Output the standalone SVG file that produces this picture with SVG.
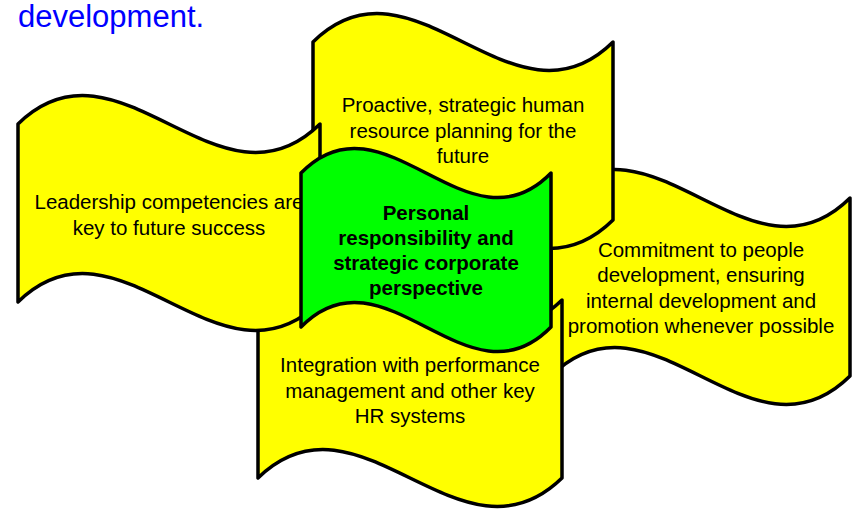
<svg xmlns="http://www.w3.org/2000/svg" width="852" height="511" viewBox="0 0 852 511">
<style>
.flag{stroke:#000;stroke-width:3.5;stroke-linejoin:round}
.y{fill:#FFFF00}
.g{fill:#00FF00}
.t{font-family:"Liberation Sans",Arial,sans-serif;font-size:20.5px;fill:#000;text-anchor:middle}
.b{font-weight:bold}
.title{font-family:"Liberation Sans",Arial,sans-serif;font-size:31px;fill:#0000FF}
</style>
<rect width="852" height="511" fill="#fff"/>
<text class="title" x="18" y="27">development.</text>
<g id="node-commitment">
<path class="flag y" d="M551,198 C650.7,99.3 750.3,296.7 850,198 L850,376 C750.3,474.7 650.7,277.3 551,376 Z"/>
<text class="t" x="701"><tspan x="701" y="257">Commitment to people</tspan><tspan x="701" y="282">development, ensuring</tspan><tspan x="701" y="307.5">internal development and</tspan><tspan x="701" y="333">promotion whenever possible</tspan></text>
</g>
<g id="node-proactive">
<path class="flag y" d="M313,42 C413,-56.7 513,140.7 613,42 L613,220 C513,318.7 413,121.3 313,220 Z"/>
<text class="t" x="463"><tspan x="463" y="112">Proactive, strategic human</tspan><tspan x="463" y="137.5">resource planning for the</tspan><tspan x="463" y="163">future</tspan></text>
</g>
<g id="node-integration">
<path class="flag y" d="M258,300 C359.3,201.3 460.7,398.7 562,300 L562,478 C460.7,576.7 359.3,379.3 258,478 Z"/>
<text class="t" x="410"><tspan x="410" y="372">Integration with performance</tspan><tspan x="410" y="397.5">management and other key</tspan><tspan x="410" y="423">HR systems</tspan></text>
</g>
<g id="node-leadership">
<path class="flag y" d="M18,124 C118.7,25.3 219.3,222.7 320,124 L320,302 C219.3,400.7 118.7,203.3 18,302 Z"/>
<text class="t" x="169"><tspan x="169" y="209">Leadership competencies are</tspan><tspan x="169" y="234.5">key to future success</tspan></text>
</g>
<g id="node-personal">
<path class="flag g" d="M301,173 C384.3,87.7 467.7,258.3 551,173 L551,327 C467.7,412.3 384.3,241.7 301,327 Z"/>
<text class="t b" x="426"><tspan x="426" y="220">Personal</tspan><tspan x="426" y="245">responsibility and</tspan><tspan x="426" y="270">strategic corporate</tspan><tspan x="426" y="295">perspective</tspan></text>
</g>
<g id="connectors"></g>
</svg>
